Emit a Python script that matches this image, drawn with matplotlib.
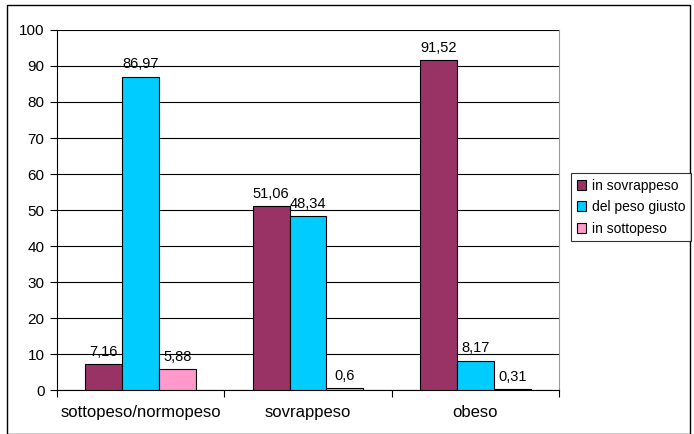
import matplotlib.pyplot as plt
import numpy as np
from matplotlib.patches import Rectangle

categories = ['sottopeso/normopeso', 'sovrappeso', 'obeso']
series_names = ['in sovrappeso', 'del peso giusto', 'in sottopeso']
sovrappeso = [7.16, 51.06, 91.52]
peso_giusto = [86.97, 48.34, 8.17]
sottopeso = [5.88, 0.6, 0.31]
colors = ['#993366', '#00CCFF', '#FF99CC']

plt.rcParams['font.family'] = ['Liberation Sans', 'DejaVu Sans']

fig = plt.figure(figsize=(6.94, 4.34), dpi=100)
ax = fig.add_axes([0.082, 0.101, 0.7235, 0.830])

x = np.arange(len(categories))
w = 0.22
for i, (vals, name) in enumerate(zip([sovrappeso, peso_giusto, sottopeso], series_names)):
    pos = x + (i - 1) * w
    ax.bar(pos, vals, w, color=colors[i], edgecolor='black', linewidth=0.8,
           label=name, zorder=3)
    for p, v in zip(pos, vals):
        ax.text(p, v + 1.5, ('%g' % v).replace('.', ','), ha='center', va='bottom',
                fontsize=10.5, zorder=4)

ax.set_xlim(-0.5, 2.5)
ax.set_ylim(0, 100)
ax.set_yticks(range(0, 101, 10))
ax.yaxis.grid(True, color='black', linewidth=0.8, zorder=0)
ax.set_xticks(x)
ax.set_xticklabels(categories)
ax.set_xticks([-0.5, 0.5, 1.5, 2.5], minor=True)
ax.tick_params(axis='x', which='major', length=0, pad=11, labelsize=12)
ax.tick_params(axis='x', which='minor', length=5, width=0.8, direction='out')
ax.tick_params(axis='y', length=5, width=0.8, direction='out', labelsize=11, pad=4)
ax.spines['left'].set_linewidth(0.8)
ax.spines['bottom'].set_linewidth(0.8)
ax.spines['right'].set_color('#999999')
ax.spines['top'].set_visible(False)

leg = fig.legend(loc='upper left', bbox_to_anchor=(571 / 694, 1 - 173 / 434),
                 fontsize=10, frameon=True, fancybox=False, edgecolor='black',
                 handlelength=0.7, handleheight=0.7, handletextpad=0.4,
                 borderpad=0.4, labelspacing=0.55, borderaxespad=0)
leg.get_frame().set_linewidth(0.8)
for h in leg.legend_handles:
    h.set_edgecolor('black')

fig.patches.append(Rectangle((7 / 694, 0), (690 - 7) / 694, (434 - 5) / 434,
                             transform=fig.transFigure, fill=False,
                             edgecolor='black', linewidth=1))

fig.savefig('out.png', dpi=100)
